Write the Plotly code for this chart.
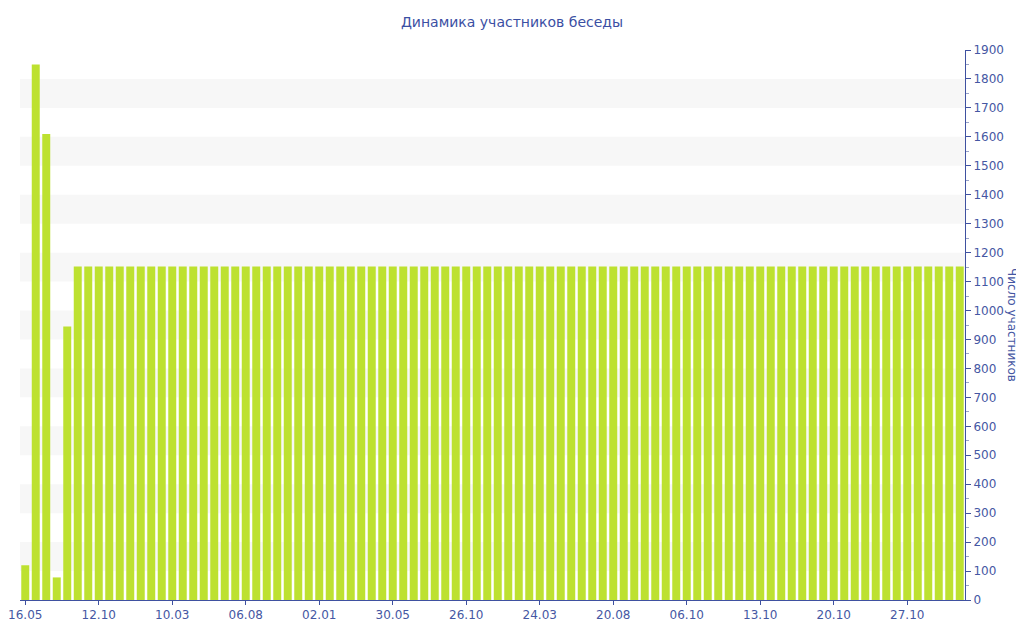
import plotly.graph_objects as go

dates = [
    "16.05.2013", "06.06.2013", "27.06.2013", "18.07.2013", "08.08.2013", "29.08.2013", "20.09.2013",
    "12.10.2013", "02.11.2013", "23.11.2013", "14.12.2013", "04.01.2014", "25.01.2014", "16.02.2014",
    "10.03.2014", "31.03.2014", "21.04.2014", "12.05.2014", "02.06.2014", "23.06.2014", "15.07.2014",
    "06.08.2014", "27.08.2014", "17.09.2014", "08.10.2014", "29.10.2014", "19.11.2014", "11.12.2014",
    "02.01.2015", "23.01.2015", "13.02.2015", "06.03.2015", "27.03.2015", "17.04.2015", "08.05.2015",
    "30.05.2015", "20.06.2015", "11.07.2015", "01.08.2015", "22.08.2015", "12.09.2015", "04.10.2015",
    "26.10.2015", "16.11.2015", "07.12.2015", "28.12.2015", "18.01.2016", "09.02.2016", "02.03.2016",
    "24.03.2016", "14.04.2016", "05.05.2016", "26.05.2016", "16.06.2016", "07.07.2016", "29.07.2016",
    "20.08.2016", "27.08.2016", "03.09.2016", "10.09.2016", "17.09.2016", "24.09.2016", "30.09.2016",
    "06.10.2016", "07.10.2016", "08.10.2016", "09.10.2016", "10.10.2016", "11.10.2016", "12.10.2016",
    "13.10.2016", "14.10.2016", "15.10.2016", "16.10.2016", "17.10.2016", "18.10.2016", "19.10.2016",
    "20.10.2016", "21.10.2016", "22.10.2016", "23.10.2016", "24.10.2016", "25.10.2016", "26.10.2016",
    "27.10.2016", "28.10.2016", "29.10.2016", "30.10.2016", "31.10.2016", "01.11.2016",
]

members = [
    120, 1850, 1610, 78, 945, 1152, 1152,
    1152, 1152, 1152, 1152, 1152, 1152, 1152,
    1152, 1152, 1152, 1152, 1152, 1152, 1152,
    1152, 1152, 1152, 1152, 1152, 1152, 1152,
    1152, 1152, 1152, 1152, 1152, 1152, 1152,
    1152, 1152, 1152, 1152, 1152, 1152, 1152,
    1152, 1152, 1152, 1152, 1152, 1152, 1152,
    1152, 1152, 1152, 1152, 1152, 1152, 1152,
    1152, 1152, 1152, 1152, 1152, 1152, 1152,
    1152, 1152, 1152, 1152, 1152, 1152, 1152,
    1152, 1152, 1152, 1152, 1152, 1152, 1152,
    1152, 1152, 1152, 1152, 1152, 1152, 1152,
    1152, 1152, 1152, 1152, 1152, 1152,
]

tick_dates = ["16.05.2013", "12.10.2013", "10.03.2014", "06.08.2014", "02.01.2015", "30.05.2015",
              "26.10.2015", "24.03.2016", "20.08.2016", "06.10.2016", "13.10.2016", "20.10.2016",
              "27.10.2016"]
tick_labels = ["16.05", "12.10", "10.03", "06.08", "02.01", "30.05", "26.10", "24.03", "20.08",
               "06.10", "13.10", "20.10", "27.10"]

band_starts = [100, 300, 500, 700, 900, 1100, 1300, 1500, 1700]

title = "Динамика участников беседы"
y_title = "Число участников"

AXIS = "#3f51a0"
TEXT = "#4557a3"
TITLE = "#3b4fa3"
FONT = "DejaVu Sans"

fig = go.Figure()
fig.add_trace(go.Bar(x=dates, y=members, marker=dict(color="#bde130", line=dict(width=0)),
                     hoverinfo="x+y"))

shapes = [dict(type="rect", xref="paper", yref="y", x0=0, x1=1, y0=b, y1=b + 100,
               fillcolor="#f7f7f7", line=dict(width=0), layer="below") for b in band_starts]

W, H = 1016, 632
fig.update_layout(
    width=W, height=H,
    margin=dict(l=12, r=59, t=42, b=40, autoexpand=False),
    paper_bgcolor="white", plot_bgcolor="white",
    showlegend=False,
    bargap=0.24,
    shapes=shapes,
    title=dict(text=title, x=(504 - 0) / W, xanchor="center", y=1 - 14 / H, yanchor="middle",
               font=dict(family=FONT, size=14, color=TITLE)),
    font=dict(family=FONT, size=12, color=TEXT),
    xaxis=dict(type="category", categoryorder="array", categoryarray=dates,
               tickmode="array", tickvals=tick_dates, ticktext=tick_labels,
               showline=True, linecolor=AXIS, linewidth=1,
               ticks="outside", ticklen=4, tickcolor=AXIS,
               showgrid=False, zeroline=False,
               tickfont=dict(family=FONT, size=12, color=TEXT)),
    yaxis=dict(side="right", range=[0, 1900], dtick=100, tick0=0,
               showline=True, linecolor=AXIS, linewidth=1,
               ticks="outside", ticklen=5, tickcolor=AXIS,
               minor=dict(ticks="outside", ticklen=3, dtick=50, tickcolor="#9aa3c8"),
               showgrid=False, zeroline=False,
               tickfont=dict(family=FONT, size=12, color=TEXT)),
    annotations=[dict(text=y_title, xref="paper", yref="paper", x=1.0497, y=0.5,
                      xanchor="center", yanchor="middle", textangle=90, showarrow=False,
                      font=dict(family=FONT, size=12, color=TEXT))],
)

fig.write_html("out.html")
